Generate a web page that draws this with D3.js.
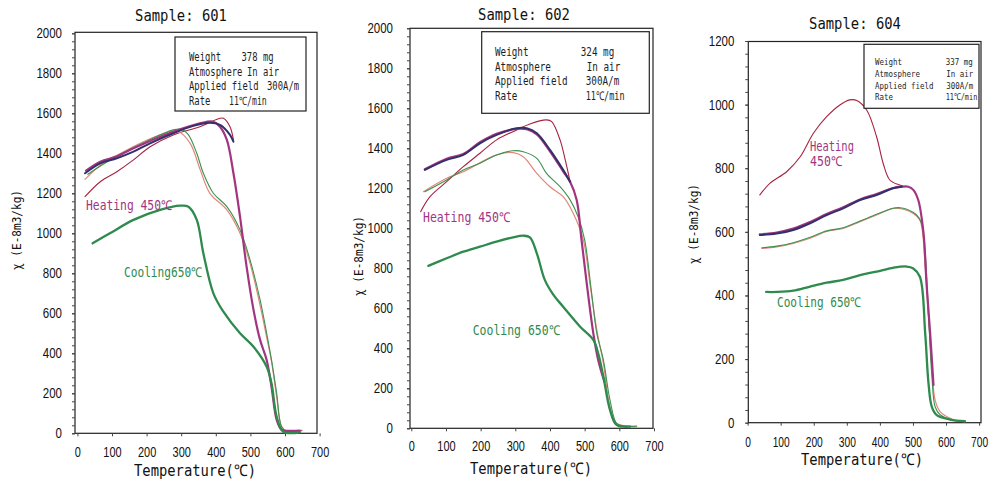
<!DOCTYPE html>
<html>
<head>
<meta charset="utf-8">
<script src="https://cdn.jsdelivr.net/npm/d3@7"></script>
<style>
  body { margin: 0; background: #fff; }
  svg { display: block; }
</style>
</head>
<body>
<svg id="chart" width="991" height="483"></svg>
<script>
// Sample 601 curves, [temperature, chi]
const s601Navy = [[22, 1300], [66, 1350], [114, 1375], [162, 1408], [210, 1450], [277, 1500], [335, 1537], [383, 1553], [412, 1542], [441, 1492], [451, 1458]];
const s601Purple = [[25, 1313], [66, 1358], [114, 1385], [162, 1425], [210, 1462], [277, 1508], [354, 1550], [393, 1558], [412, 1533], [432, 1467], [451, 1300], [470, 1083], [489, 833], [509, 617], [528, 467], [547, 367], [561, 233], [576, 67], [590, 17], [610, 12], [643, 13]];
const s601Red = [[22, 1183], [66, 1258], [114, 1308], [162, 1367], [210, 1433], [277, 1492], [354, 1533], [412, 1575], [422, 1575], [441, 1533], [451, 1467]];
const s601Green = [[30, 1295], [70, 1340], [120, 1390], [200, 1460], [277, 1517], [300, 1520], [320, 1495], [345, 1400], [364, 1300], [393, 1200], [432, 1133], [470, 1017], [499, 867], [528, 667], [547, 500], [561, 367], [576, 200], [590, 33], [605, 8], [648, 13]];
const s601Salmon = [[22, 1270], [70, 1345], [120, 1395], [200, 1465], [260, 1505], [290, 1510], [326, 1450], [355, 1317], [383, 1200], [432, 1117], [470, 1000], [499, 850], [528, 640], [547, 480], [561, 360], [576, 180], [590, 35], [605, 12], [650, 15]];
const s601Cool = [[44, 950], [94, 1000], [162, 1067], [239, 1117], [297, 1138], [321, 1133], [345, 1067], [364, 900], [393, 700], [422, 608], [470, 500], [509, 433], [547, 333], [561, 250], [576, 83], [595, 8], [643, 5]];

// Sample 602 curves
const s602Navy = [[39, 1292], [102, 1342], [150, 1367], [198, 1425], [246, 1467], [304, 1500], [333, 1500], [362, 1475], [400, 1392], [438, 1292], [458, 1233]];
const s602Purple = [[39, 1295], [102, 1348], [150, 1372], [198, 1430], [246, 1472], [304, 1497], [333, 1495], [362, 1470], [400, 1385], [438, 1285], [458, 1233], [477, 1142], [491, 942], [506, 725], [525, 475], [539, 342], [557, 233]];
const s602Red = [[27, 1083], [54, 1158], [102, 1233], [150, 1308], [198, 1375], [246, 1442], [304, 1492], [342, 1522], [390, 1542], [405, 1533], [429, 1442], [444, 1342], [458, 1233]];
const s602Green = [[39, 1183], [102, 1242], [150, 1292], [198, 1325], [246, 1367], [294, 1388], [323, 1383], [362, 1350], [390, 1275], [429, 1208], [458, 1142], [481, 1058], [500, 942], [519, 692], [535, 475], [554, 342], [573, 142], [592, 25], [611, 12], [650, 8]];
const s602Salmon = [[35, 1183], [102, 1250], [150, 1283], [246, 1367], [294, 1378], [323, 1358], [362, 1275], [400, 1208], [438, 1158], [467, 1075], [496, 942], [515, 725], [535, 492], [554, 325], [573, 108], [592, 25], [650, 12]];
const s602Cool = [[49, 812], [102, 850], [150, 883], [198, 908], [246, 933], [294, 955], [323, 963], [342, 955], [362, 875], [385, 742], [410, 667], [438, 608], [487, 508], [525, 442], [539, 375], [554, 258], [573, 92], [592, 17], [631, 8]];

// Sample 604 curves
const s604Red = [[37, 716], [68, 753], [118, 789], [159, 836], [199, 910], [239, 962], [279, 999], [309, 1015], [330, 1013], [360, 983], [390, 899], [410, 815], [430, 763], [460, 747], [475, 742]];
const s604Navy = [[37, 590], [88, 595], [138, 606], [189, 627], [239, 653], [289, 674], [340, 700], [390, 716], [440, 737], [466, 742]];
const s604Purple = [[37, 592], [88, 598], [138, 610], [189, 631], [239, 656], [289, 677], [340, 702], [390, 719], [440, 738], [466, 742], [486, 742], [501, 732], [516, 700], [532, 595], [541, 438], [552, 281], [562, 119]];
const s604Green = [[43, 550], [88, 555], [138, 566], [189, 583], [239, 603], [289, 613], [340, 634], [390, 655], [440, 674], [461, 676], [481, 671], [511, 653], [526, 627], [537, 532], [547, 340], [557, 150], [567, 50], [582, 25], [622, 8], [657, 3]];
const s604Salmon = [[43, 548], [88, 553], [138, 564], [189, 580], [239, 601], [289, 611], [340, 632], [390, 653], [440, 674], [471, 671], [501, 658], [521, 637], [537, 490], [547, 333], [557, 176], [567, 71], [582, 35], [622, 10], [657, 3]];
const s604Cool = [[56, 411], [88, 411], [138, 415], [189, 428], [239, 440], [289, 449], [340, 464], [390, 475], [440, 487], [481, 491], [501, 485], [521, 459], [537, 281], [547, 124], [557, 50], [572, 24], [612, 10], [657, 5]];

// Axis ticks
const xTicks = [0, 100, 200, 300, 400, 500, 600, 700];
const yTicks2000 = [0, 200, 400, 600, 800, 1000, 1200, 1400, 1600, 1800, 2000];
const yTicks1200 = [0, 200, 400, 600, 800, 1000, 1200];

// Info box text
const info601 = [['Weight', '378 mg'], ['Atmosphere', 'In air'], ['Applied field', '300A/m'], ['Rate', '11\u2103/min']];
const info602 = [['Weight', '324 mg'], ['Atmosphere', 'In air'], ['Applied field', '300A/m'], ['Rate', '11\u2103/min']];
const info604 = [['Weight', '337 mg'], ['Atmosphere', 'In air'], ['Applied field', '300A/m'], ['Rate', '11\u2103/min']];

const colors = {
  navy: '#34306b',
  purple: '#a2357f',
  red: '#a8213f',
  green: '#3e9152',
  salmon: '#e2877a',
  cool: '#2f8a4e',
};

const svg = d3.select('#chart');
const MONO = '"DejaVu Sans Mono", monospace';
const SANS = '"Liberation Sans", Arial, sans-serif';

// Text squeezed horizontally to a given width (the scan uses a narrow gothic font).
// A scale transform is used so that the text's box really has that width.
function label(g, x, y, s, opt) {
  const t = g.append('text')
    .attr('x', 0).attr('y', 0)
    .attr('font-family', opt.family || MONO)
    .attr('font-size', opt.size)
    .attr('fill', opt.color || '#1e1e1e')
    .attr('text-anchor', opt.anchor || 'start')
    .text(s);
  const natural = t.node().getComputedTextLength();
  const sx = opt.width ? opt.width / natural : 1;
  const rot = opt.rotate ? ' rotate(-90)' : '';
  t.attr('transform', `translate(${x},${y})${rot} scale(${sx},1)`);
  return t;
}

// squeeze axis tick labels around their anchor point
function squeezeTicks(axisG, perChar, size) {
  axisG.selectAll('text').each(function (d) {
    const t = d3.select(this)
      .attr('font-family', SANS)
      .attr('font-size', size)
      .attr('fill', '#111');
    const natural = this.getComputedTextLength();
    const sx = (String(d).length * perChar) / natural;
    const x0 = +t.attr('x') || 0;
    const y0 = +t.attr('y') || 0;
    t.attr('x', 0).attr('y', 0)
      .attr('transform', `translate(${x0},${y0}) scale(${sx},1)`);
  });
}

const panels = [
  {
    title: 'Sample: 601', titleX: 181, titleY: 21,
    xRange: [77.4, 319.6], yRange: [433.3, 33.3], yMax: 2000, yTicks: yTicks2000,
    box: { l: 75, t: 32.3, r: 317 },
    yPad: 10, xPad: 11, xCh: 6.1, yTitle: { x: 21, y: 230 }, xTitle: { x: 195, y: 476 },
    curves: [
      [s601Red, colors.red, 1.1], [s601Salmon, colors.salmon, 1.2], [s601Green, colors.green, 1.1],
      [s601Purple, colors.purple, 2.2], [s601Navy, colors.navy, 2.0], [s601Cool, colors.cool, 2.3],
    ],
    info: info601, infoBox: { l: 175, t: 37, r: 306, b: 111 },
    infoX: 189, infoVX: [241.5, 247, 267, 229], infoY: [61, 75.5, 90, 104.5], infoSize: 11.5, infoCh: 5.35, infoAnchor: 'start',
    notes: [
      { s: 'Heating 450\u2103', x: 86, y: 210, c: colors.purple, w: 86 },
      { s: 'Cooling650\u2103', x: 124, y: 277, c: colors.cool, w: 78 },
    ],
  },
  {
    title: 'Sample: 602', titleX: 524, titleY: 20,
    xRange: [411.3, 654], yRange: [428.3, 28.3], yMax: 2000, yTicks: yTicks2000,
    box: { l: 410, t: 28.3, r: 653 },
    yPad: 14, xPad: 10, xCh: 6.1, yTitle: { x: 363, y: 256 }, xTitle: { x: 531, y: 474 },
    curves: [
      [s602Red, colors.red, 1.1], [s602Salmon, colors.salmon, 1.2], [s602Green, colors.green, 1.1],
      [s602Purple, colors.purple, 2.2], [s602Navy, colors.navy, 2.0], [s602Cool, colors.cool, 2.3],
    ],
    info: info602, infoBox: { l: 481.7, t: 31.7, r: 649.3, b: 113.3 },
    infoX: 495, infoVX: [580.7, 586.7, 585.7, 585.7], infoY: [56, 70.5, 85, 99.5], infoSize: 12, infoCh: 5.6, infoAnchor: 'start',
    notes: [
      { s: 'Heating 450\u2103', x: 423, y: 222, c: colors.purple, w: 87 },
      { s: 'Cooling 650\u2103', x: 472.7, y: 335, c: colors.cool, w: 87 },
    ],
  },
  {
    title: 'Sample: 604', titleX: 855, titleY: 29,
    xRange: [747.6, 979.1], yRange: [422.7, 41], yMax: 1200, yTicks: yTicks1200,
    box: { l: 748.3, t: 41.5, r: 981 },
    yPad: 11, xPad: 11, xCh: 5.7, yTitle: { x: 698, y: 224 }, xTitle: { x: 862, y: 465 },
    curves: [
      [s604Red, colors.red, 1.1], [s604Salmon, colors.salmon, 1.2], [s604Green, colors.green, 1.1],
      [s604Purple, colors.purple, 2.2], [s604Navy, colors.navy, 2.0], [s604Cool, colors.cool, 2.3],
    ],
    info: info604, infoBox: { l: 864, t: 44.3, r: 979, b: 108.3 },
    infoX: 875, infoVX: [972.7, 973.3, 973.3, 977.3], infoY: [65, 77, 88.5, 100], infoSize: 9.5, infoCh: 4.5, infoAnchor: 'end',
    notes: [
      { s: 'Heating', x: 810, y: 151, c: colors.purple, w: 44 },
      { s: '450\u2103', x: 810, y: 166, c: colors.purple, w: 32 },
      { s: 'Cooling 650\u2103', x: 777, y: 307, c: colors.cool, w: 84 },
    ],
  },
];

panels.forEach((p) => {
  const x = d3.scaleLinear().domain([0, 700]).range(p.xRange);
  const y = d3.scaleLinear().domain([0, p.yMax]).range(p.yRange);
  const g = svg.append('g');
  const bottom = y(0);

  // plot frame
  g.append('rect')
    .attr('x', p.box.l).attr('y', p.box.t)
    .attr('width', p.box.r - p.box.l).attr('height', bottom - p.box.t)
    .attr('fill', 'none').attr('stroke', '#222').attr('stroke-width', 1.2);

  // y axis, majors with labels and minor ticks every 40
  const minor = d3.range(0, p.yMax + 1, 40);
  const yMinor = g.append('g').attr('transform', `translate(${p.box.l},0)`)
    .call(d3.axisLeft(y).tickValues(minor).tickSize(3).tickFormat(''));
  const yAxis = g.append('g').attr('transform', `translate(${p.box.l},0)`)
    .call(d3.axisLeft(y).tickValues(p.yTicks).tickSize(3).tickPadding(p.yPad).tickFormat(d3.format('d')));
  [yMinor, yAxis].forEach((a) => {
    a.select('.domain').remove();
    a.selectAll('line').attr('stroke', '#444');
  });
  squeezeTicks(yAxis, 6.4, 14);

  // x axis
  const xAxis = g.append('g').attr('transform', `translate(0,${bottom})`)
    .call(d3.axisBottom(x).tickValues(xTicks).tickSize(3).tickPadding(p.xPad).tickFormat(d3.format('d')));
  xAxis.select('.domain').remove();
  xAxis.selectAll('line').attr('stroke', '#444');
  squeezeTicks(xAxis, p.xCh, 14);

  // curves
  const line = d3.line()
    .x((d) => x(d[0]))
    .y((d) => y(d[1]))
    .curve(d3.curveCatmullRom.alpha(0.5));
  p.curves.forEach(([pts, color, w]) => {
    g.append('path')
      .attr('d', line(pts))
      .attr('fill', 'none')
      .attr('stroke', color)
      .attr('stroke-width', w)
      .attr('stroke-linejoin', 'round')
      .attr('stroke-linecap', 'round');
  });

  // titles
  label(g, p.titleX, p.titleY, p.title, { size: 15.5, anchor: 'middle', width: 92, color: '#111' });
  label(g, p.xTitle.x, p.xTitle.y, 'Temperature(\u2103)', { size: 16, anchor: 'middle', width: 122, color: '#111' });
  label(g, p.yTitle.x, p.yTitle.y, '\u03c7 (E-8m3/kg)', { size: 12.5, anchor: 'middle', width: 80, rotate: true, color: '#111' });

  // info box
  const b = p.infoBox;
  g.append('rect')
    .attr('x', b.l).attr('y', b.t)
    .attr('width', b.r - b.l).attr('height', b.b - b.t)
    .attr('fill', '#fff').attr('stroke', '#222').attr('stroke-width', 1.2);
  p.info.forEach(([k, v], i) => {
    label(g, p.infoX, p.infoY[i], k, { size: p.infoSize, width: k.length * p.infoCh });
    label(g, p.infoVX[i], p.infoY[i], v, { size: p.infoSize, width: v.length * p.infoCh, anchor: p.infoAnchor });
  });

  // curve annotations
  p.notes.forEach((n) => {
    label(g, n.x, n.y, n.s, { size: 13.5, width: n.w, color: n.c });
  });
});
</script>
</body>
</html>
